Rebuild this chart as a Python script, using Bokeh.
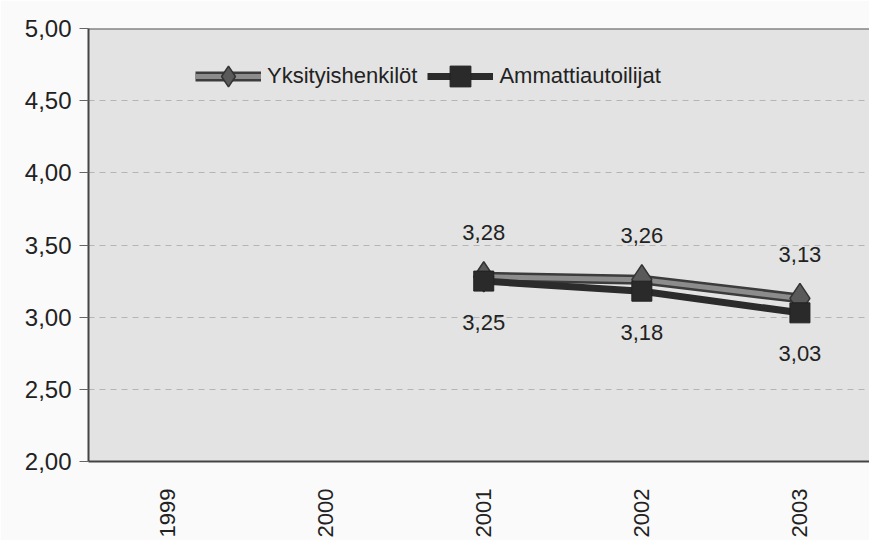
import math
from bokeh.plotting import figure
from bokeh.models import Range1d, FixedTicker, Span, Legend, LegendItem, ColumnDataSource
from bokeh.core.properties import value
from bokeh.embed import file_html
from bokeh.resources import INLINE

years = ["1999", "2000", "2001", "2002", "2003"]
yksityis_years = ["2001", "2002", "2003"]
yksityis = [3.28, 3.26, 3.13]
ammatti_years = ["2001", "2002", "2003"]
ammatti = [3.25, 3.18, 3.03]
y_ticks = [2.0, 2.5, 3.0, 3.5, 4.0, 4.5, 5.0]
y_tick_labels = ["2,00", "2,50", "3,00", "3,50", "4,00", "4,50", "5,00"]

FONT = "Liberation Sans"

def fmt(v):
    return f"{v:.2f}".replace(".", ",")

src_y = ColumnDataSource(dict(x=[years.index(y) for y in yksityis_years], y=yksityis,
                              lab=[fmt(v) for v in yksityis]))
src_a = ColumnDataSource(dict(x=[years.index(y) for y in ammatti_years], y=ammatti,
                              lab=[fmt(v) for v in ammatti]))

p = figure(width=869, height=540, output_backend="svg", toolbar_location=None,
           x_range=Range1d(-0.5, 4.44), y_range=Range1d(2.0, 5.0),
           min_border_left=88, min_border_top=28, min_border_bottom=77, min_border_right=0,
           outline_line_color=None, outline_line_alpha=0, outline_line_width=0)
p.background_fill_color = "#e3e3e3"
p.border_fill_color = "#fafafa"

# axes
p.yaxis.ticker = FixedTicker(ticks=y_ticks)
p.yaxis.major_label_overrides = {t: l for t, l in zip(y_ticks, y_tick_labels)}
p.yaxis.major_label_text_font = FONT
p.yaxis.major_label_text_font_size = "24px"
p.yaxis.major_label_text_color = "#222222"
p.yaxis.major_tick_out = 9
p.yaxis.major_tick_in = 0
p.yaxis.minor_tick_line_color = None
p.yaxis.major_label_standoff = 8
p.yaxis.axis_line_color = "#444444"
p.yaxis.axis_line_width = 2
p.yaxis.major_tick_line_color = "#666666"

p.xaxis.ticker = FixedTicker(ticks=list(range(len(years))))
p.xaxis.major_label_overrides = {i: y for i, y in enumerate(years)}
p.xaxis.major_label_orientation = math.pi / 2
p.xaxis.major_label_text_font = FONT
p.xaxis.major_label_text_font_size = "22px"
p.xaxis.major_label_text_color = "#222222"
p.xaxis.major_tick_out = 0
p.xaxis.major_tick_in = 0
p.xaxis.minor_tick_line_color = None
p.xaxis.major_label_standoff = 27
p.xaxis.axis_line_color = "#444444"
p.xaxis.axis_line_width = 2

p.xgrid.grid_line_color = None
p.ygrid.grid_line_color = "#b5b5b5"
p.ygrid.grid_line_dash = "6 5"
p.ygrid.grid_line_width = 1

p.add_layout(Span(location=5.0, dimension="width", line_color="#555555", line_width=2))

# series
y_outer = p.line("x", "y", source=src_y, line_color="#3c3c3c", line_width=10)
y_inner = p.line("x", "y", source=src_y, line_color="#8c8c8c", line_width=5)
a_line = p.line("x", "y", source=src_a, line_color="#2b2b2b", line_width=7)
y_mark = p.scatter("x", "y", source=src_y, marker="diamond", size=30,
                   fill_color="#5a5a5a", line_color="#333333", line_width=1.5)
a_mark = p.scatter("x", "y", source=src_a, marker="square", size=20,
                   fill_color="#2a2a2a", line_color="#222222")

p.text("x", "y", text="lab", source=src_y, y_offset=-44, text_align="center",
       text_baseline="middle", text_font=value(FONT), text_font_size="22px", text_color="#222222")
p.text("x", "y", text="lab", source=src_a, y_offset=41, text_align="center",
       text_baseline="middle", text_font=value(FONT), text_font_size="22px", text_color="#222222")

legend = Legend(items=[
    LegendItem(label="Yksityishenkilöt", renderers=[y_outer, y_inner, y_mark]),
    LegendItem(label="Ammattiautoilijat", renderers=[a_line, a_mark]),
], location=(107, 359), orientation="horizontal", padding=0, margin=0, spacing=10,
    label_standoff=6, glyph_width=66, glyph_height=52,
    background_fill_alpha=0, border_line_color=None,
    label_text_font=FONT, label_text_font_size="22px", label_text_color="#222222")
p.add_layout(legend)

open("out.html", "w").write(file_html(p, INLINE))
